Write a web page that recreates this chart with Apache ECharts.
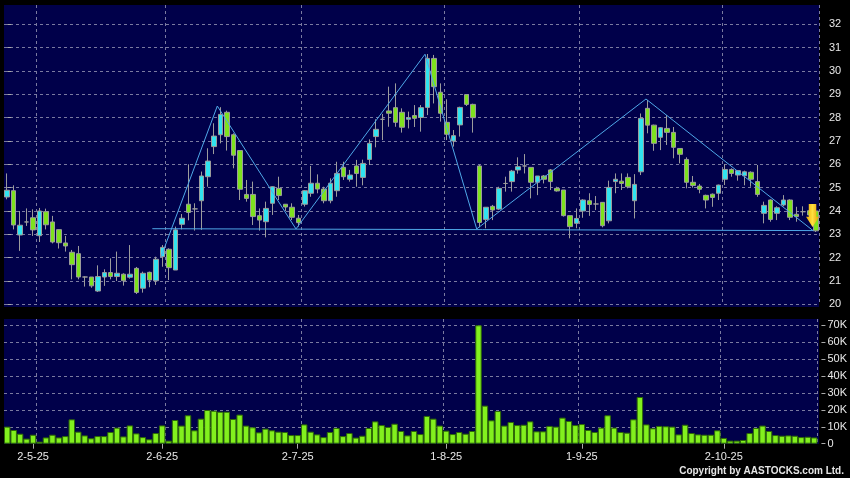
<!DOCTYPE html>
<html><head><meta charset="utf-8">
<script src="https://cdn.jsdelivr.net/npm/echarts@6/dist/echarts.min.js"></script>
<style>html,body{margin:0;padding:0;background:#000;}#c{width:850px;height:478px;}</style>
</head><body><div id="c"></div>
<script>
const opens = [24.6,24.87,22.97,23.53,23.71,22.94,23.97,23.53,23.2,22.63,
22.23,22.17,21.17,21.17,20.57,21.17,21.36,21.19,21.29,21.16,
21.54,20.69,21.37,21.01,22.04,22.36,21.47,23.43,24.29,24.09,
24.44,25.47,26.76,27.27,28.23,27.27,26.59,24.71,24.71,23.8,
23.54,24.33,24.97,24.29,24.16,23.69,24.29,24.76,25.19,24.94,
24.44,24.87,25.87,25.36,25.93,25.44,26.21,27.19,27.93,28.29,
28.43,28.23,27.93,28.09,28.01,28.44,30.54,29.09,27.8,27.0,
27.69,28.99,28.57,25.93,23.64,24.2,24.08,25.18,25.26,25.76,
25.93,25.87,25.23,25.5,25.76,24.97,24.9,23.8,23.47,24.0,
24.44,24.3,24.37,23.58,25.26,25.28,25.44,24.44,25.68,28.4,
27.68,27.16,27.54,27.37,26.68,26.21,25.23,25.07,24.67,24.72,
24.76,25.36,25.78,25.54,25.51,25.66,25.26,23.9,24.47,23.9,
24.26,24.47,23.86,23.97,24.01,24.0];
const closes = [24.89,23.4,23.39,23.53,23.19,24.0,23.41,22.67,22.64,22.5,
21.7,21.17,21.17,20.79,21.19,21.36,21.19,21.33,21.01,21.29,
20.51,21.33,21.04,21.93,22.44,21.57,23.19,23.69,23.94,24.09,
25.5,26.14,27.21,28.14,27.19,26.39,24.93,24.54,23.76,23.61,
24.11,25.04,24.66,24.17,23.73,23.5,24.87,25.19,24.94,24.44,
25.19,25.61,25.47,25.54,25.61,26.04,26.9,27.5,27.93,28.19,
27.8,27.59,28.0,27.97,28.43,30.54,29.33,28.19,27.29,27.23,
28.44,28.57,28.0,23.51,24.16,24.04,24.97,25.18,25.71,25.9,
25.93,25.23,25.5,25.36,25.26,24.86,23.8,23.33,23.68,24.47,
24.28,24.3,23.37,25.01,25.36,25.18,25.04,25.14,27.97,27.68,
26.9,27.57,27.37,26.73,26.43,25.23,25.09,24.93,24.47,24.58,
25.11,25.78,25.61,25.73,25.68,25.36,24.71,24.24,23.64,24.14,
24.47,23.73,23.76,23.97,23.83,23.15];
const lows = [24.5,23.21,22.29,23.36,22.93,22.67,23.21,22.61,22.39,22.26,
21.07,21.07,20.76,20.71,20.53,20.79,21.07,21.0,20.8,21.1,
20.44,20.5,20.73,20.83,21.61,21.04,21.47,23.21,23.6,23.16,
23.19,25.04,26.44,26.9,26.59,25.83,24.47,24.4,23.4,23.16,
22.87,23.83,24.47,24.0,23.61,23.33,24.19,24.61,24.76,24.33,
24.33,24.61,25.33,25.26,25.04,25.1,25.97,26.73,27.04,27.61,
27.61,27.36,27.54,27.6,27.4,28.11,28.61,27.83,27.04,26.76,
27.19,28.5,27.36,23.3,23.26,23.61,24.04,24.83,24.83,25.6,
25.61,24.54,24.68,25.18,24.9,24.83,23.76,22.83,23.26,23.71,
23.79,24.04,23.3,23.47,24.76,24.9,24.97,23.68,25.54,27.33,
26.58,26.61,26.83,26.26,26.04,24.97,25.0,24.76,24.11,24.18,
24.47,25.11,25.47,25.3,25.1,25.04,24.61,23.47,23.54,23.61,
24.2,23.61,23.54,23.8,23.8,23.1];
const highs = [25.61,25.1,24.0,24.11,24.07,24.13,24.1,23.79,23.21,22.93,
22.33,22.5,21.2,21.17,21.67,21.5,21.97,22.26,21.33,22.54,
21.6,21.4,21.4,22.04,22.54,22.4,23.33,23.87,26.0,24.33,
25.69,26.69,27.76,28.45,28.3,27.33,26.6,25.33,25.26,24.11,
24.4,25.06,25.47,24.3,24.33,23.83,24.9,25.93,25.57,25.04,
25.4,26.11,26.11,25.76,26.19,26.2,27.07,27.93,28.16,29.33,
29.47,28.4,28.26,28.54,28.54,30.73,30.69,29.47,28.79,27.47,
28.47,29.0,28.6,25.97,24.16,24.26,25.04,25.47,25.76,26.3,
26.44,25.87,25.5,25.54,25.8,25.04,24.9,23.8,24.11,24.5,
24.76,24.64,24.37,25.3,25.61,25.61,25.61,25.58,28.18,28.76,
27.7,27.6,28.11,27.6,26.7,26.3,25.5,25.16,24.7,24.75,
25.13,26.01,25.83,25.75,25.73,25.7,25.97,24.4,24.5,24.2,
24.68,24.5,24.18,24.2,24.2,24.0];
const volumesK = [10.1,8.1,5.9,3.0,5.3,1.2,3.7,5.3,3.7,4.5,
14.4,7.1,4.9,3.2,4.5,4.5,6.9,9.5,4.3,10.8,
6.1,3.9,2.6,6.3,10.8,1.8,14.0,10.7,16.8,7.9,
14.8,19.9,19.5,18.9,18.9,14.6,17.2,10.7,9.7,6.7,
8.9,7.9,7.1,6.9,5.1,5.1,11.4,7.1,5.5,3.9,
6.9,9.3,4.5,6.3,3.6,4.7,9.3,13.2,11.0,9.9,
11.8,7.5,4.9,7.5,5.7,16.4,14.8,10.7,7.7,5.7,
6.9,5.9,7.5,70.0,22.5,13.8,19.3,10.7,12.8,11.0,
11.2,13.2,7.3,7.3,10.5,10.1,15.4,13.4,11.0,11.6,
8.1,6.9,9.5,16.8,9.5,6.9,6.5,14.4,27.6,11.4,
9.1,10.5,10.3,10.1,5.5,11.2,6.3,5.5,5.3,5.3,
7.9,3.4,1.8,1.8,2.2,6.3,9.3,10.7,7.5,5.1,
4.7,4.9,4.7,3.9,4.1,3.7];
const categories = opens.map((_, i) => String(i));
const tickIndex = [4, 24, 45, 68, 89, 111];
const tickLabels = ['2-5-25', '2-6-25', '2-7-25', '1-8-25', '1-9-25', '2-10-25'];
const monthStartIndex = [5, 25, 46, 68, 89, 111];
const priceTicks = [20,21,22,23,24,25,26,27,28,29,30,31,32];
const volumeTicksK = [0,10,20,30,40,50,60,70];
const necklineLine = [[22.43, 23.24], [124.6, 23.16]];
const zigzagLine = [[23.77, 22.03], [32.48, 28.5], [44.64, 23.23], [64.59, 30.72], [72.58, 23.23], [98.75, 28.8], [124.62, 23.15]];
const signalArrow = [124.5, 23.81];

const candleData = opens.map((o, i) => [o, closes[i], lows[i], highs[i]]);
const N = opens.length;
const chart = echarts.init(document.getElementById('c'));
const splitStyle = {color: '#7a7aa0', type: [3, 3], width: 1};
const labelColor = '#e8e8e8';
const lineBlue = '#4fa8e8';
const fontFam = '"Liberation Sans", Arial, sans-serif';

chart.setOption({
  backgroundColor: '#000',
  animation: false,
  graphic: [
    {type: 'rect', z: -10, silent: true, shape: {x: 4, y: 5, width: 815, height: 302}, style: {fill: '#00004a'}},
    {type: 'rect', z: -10, silent: true, shape: {x: 4, y: 319, width: 815, height: 125}, style: {fill: '#00004a'}},
    {type: 'text', right: 6, top: 466, silent: true, style: {text: 'Copyright by AASTOCKS.com Ltd.', fill: '#e6e6e6', font: 'bold 10px ' + fontFam}}
  ],
  grid: [
    {left: 4, right: 31, top: 5, height: 299.3},
    {left: 4, right: 31, top: 319, height: 124.7}
  ],
  xAxis: [
    {type: 'category', gridIndex: 0, data: categories, boundaryGap: true,
     axisLine: {show: false}, axisTick: {show: false}, axisLabel: {show: false},
     splitLine: {show: true, interval: (i) => monthStartIndex.includes(i), lineStyle: splitStyle}},
    {type: 'category', gridIndex: 1, data: categories, boundaryGap: true,
     axisLine: {show: false},
     axisTick: {show: true, alignWithLabel: true, interval: (i) => tickIndex.includes(i), length: 5, lineStyle: {color: '#aaaaaa'}},
     axisLabel: {show: true, interval: (i) => tickIndex.includes(i), margin: 8, color: labelColor, fontSize: 11, fontFamily: fontFam,
       formatter: (v, i) => { const k = tickIndex.indexOf(Number(v)); return k >= 0 ? tickLabels[k] : ''; }},
     splitLine: {show: true, interval: (i) => monthStartIndex.includes(i), lineStyle: splitStyle}},
    {type: 'value', gridIndex: 0, min: -0.5, max: N - 0.5, show: false}
  ],
  yAxis: [
    {type: 'value', gridIndex: 0, position: 'right', min: 20, max: 32.83, interval: 1, offset: 4,
     axisLine: {show: false},
     axisTick: {show: true, length: 4, customValues: priceTicks, lineStyle: {color: '#aaaaaa'}},
     axisLabel: {customValues: priceTicks, margin: 6, color: labelColor, fontSize: 11, fontFamily: fontFam,
       formatter: (v) => Math.abs(v - Math.round(v)) < 1e-6 ? String(Math.round(v)) : ''},
     splitLine: {show: true, lineStyle: splitStyle}},
    {type: 'value', gridIndex: 1, position: 'right', min: 0, max: 73.7, interval: 10, offset: 4,
     axisLine: {show: false},
     axisTick: {show: true, length: 4, customValues: volumeTicksK, lineStyle: {color: '#aaaaaa'}},
     axisLabel: {customValues: volumeTicksK, margin: 6, color: labelColor, fontSize: 11, fontFamily: fontFam,
       formatter: (v) => Math.abs(v - Math.round(v)) < 1e-6 && Math.round(v) % 10 === 0 ? (v === 0 ? '0' : Math.round(v) + 'K') : ''},
     splitLine: {show: true, showMinLine: false, lineStyle: splitStyle}}
  ],
  series: [
    {type: 'candlestick', xAxisIndex: 0, yAxisIndex: 0, data: candleData, barWidth: 5,
     itemStyle: {color: '#30e4f0', color0: '#7ee21e', borderColor: '#9c9c9c', borderColor0: '#9c9c9c', borderColorDoji: '#9c9c9c', borderWidth: 1}},
    {type: 'bar', xAxisIndex: 1, yAxisIndex: 1, data: volumesK, barWidth: '100%',
     itemStyle: {color: '#82f01e', borderColor: '#2f6a06', borderWidth: 1}},
    {type: 'line', xAxisIndex: 2, yAxisIndex: 0, data: necklineLine, symbol: 'none', silent: true,
     lineStyle: {color: lineBlue, width: 1}},
    {type: 'line', xAxisIndex: 2, yAxisIndex: 0, data: zigzagLine, symbol: 'none', silent: true,
     lineStyle: {color: lineBlue, width: 1},
     markPoint: {silent: true,
       symbol: 'path://M2.8,0 L10.5,0 L10.5,12.7 L13.3,12.7 L6.65,22.7 L0,12.7 L2.8,12.7 Z',
       symbolSize: [13, 23],
       label: {show: false},
       itemStyle: {color: new echarts.graphic.LinearGradient(0, 0, 1, 0, [{offset: 0, color: '#f0a800'}, {offset: 0.5, color: '#ffe040'}, {offset: 1, color: '#e89a00'}])},
       data: [{coord: signalArrow}]}}
  ]
});
</script>
</body></html>
